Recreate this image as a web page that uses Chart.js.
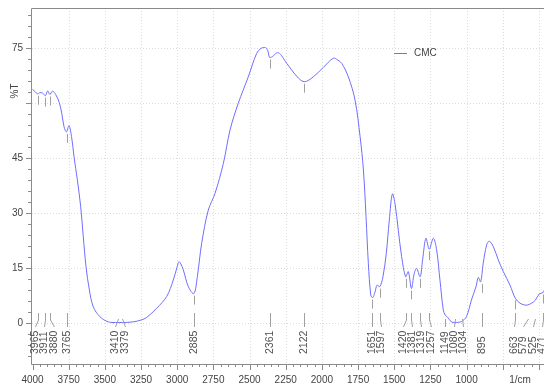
<!DOCTYPE html>
<html>
<head>
<meta charset="utf-8">
<script src="https://cdn.jsdelivr.net/npm/chart.js@4"></script>
<style>
  html, body { margin: 0; padding: 0; background: #fff; }
  #wrap { width: 544px; height: 387px; }
</style>
</head>
<body>
<div id="wrap"><canvas id="irChart" width="544" height="387"></canvas></div>
<script>
// wavenumber (1/cm) and transmittance (%T)
const wavenumbers = [
  4000, 3985, 3965, 3950, 3930, 3911, 3895, 3880, 3862, 3840, 3815, 3798, 3782, 3765, 3748,
  3730, 3713, 3690, 3667, 3649, 3630, 3607, 3580, 3534, 3476, 3410, 3379, 3303, 3250, 3211,
  3142, 3073, 3027, 3000, 2988, 2975, 2958, 2923, 2885, 2861, 2831, 2785, 2739, 2681, 2635,
  2578, 2509, 2451, 2420, 2390, 2375, 2361, 2345, 2301, 2243, 2174, 2122, 2060, 1990, 1921,
  1890, 1863, 1817, 1771, 1736, 1713, 1695, 1679, 1662, 1649, 1633, 1619, 1600, 1578, 1555,
  1534, 1513, 1495, 1472, 1449, 1421, 1403, 1381, 1364, 1346, 1321, 1304, 1281, 1258, 1230,
  1207, 1184, 1161, 1149, 1130, 1105, 1080, 1055, 1034, 1001, 966, 935, 919, 903, 885,
  861, 843, 815, 781, 746, 700, 663, 631, 600, 579, 550, 525, 498, 471, 465
];
const transmittance = [
  63.8, 63.3, 62.6, 62.9, 62.8, 62.1, 63.4, 62.4, 63.3, 62.4, 60.2, 57.3, 53.6, 52.2, 53.9,
  50.9, 45.4, 39.1, 31.8, 23.6, 15.4, 9.1, 4.5, 1.8, 0.4, 0.2, 0.2, 0.4, 0.9, 1.6,
  4.1, 7.3, 11.8, 15.5, 16.8, 16.2, 14.6, 10.0, 8.1, 12.7, 21.8, 30.9, 35.4, 43.6, 52.7,
  60.0, 67.2, 73.6, 75.0, 75.2, 74.5, 72.5, 72.7, 73.8, 70.9, 67.4, 65.9, 67.2, 69.8, 72.3,
  71.8, 70.9, 67.2, 60.9, 50.9, 41.8, 29.1, 16.4, 7.7, 7.0, 8.5, 10.4, 10.0, 12.7, 19.1,
  28.2, 35.3, 32.7, 25.4, 18.2, 12.7, 14.1, 9.5, 13.2, 15.0, 12.7, 17.3, 23.2, 20.2, 23.2,
  20.0, 11.8, 3.6, 2.3, 1.6, 0.4, 0.2, 0.3, 0.5, 1.8, 6.4, 10.0, 12.5, 11.3, 16.4,
  21.4, 22.4, 20.9, 17.3, 14.1, 10.4, 6.8, 5.5, 5.0, 5.0, 5.5, 6.3, 8.0, 8.4, 9.0
];

// labelled peaks and the %T at each one
const peakWaves = [3965, 3911, 3880, 3765, 3410, 3379, 2885, 2361, 2122, 1651, 1597, 1420,
  1381, 1319, 1257, 1149, 1080, 1034, 895, 663, 579, 525, 471];
const peakT = [62.6, 62.1, 62.4, 52.2, 0.2, 0.2, 8.1, 72.5, 65.9, 7.0, 10.0, 12.7,
  9.5, 12.7, 20.2, 2.3, 0.2, 0.5, 11.3, 6.8, 5.0, 6.3, 8.4];

const xTickLabels = [4000, 3750, 3500, 3250, 3000, 2750, 2500, 2250, 2000, 1750, 1500, 1250, 1000];
const yTickLabels = [0, 15, 30, 45, 75];
const seriesName = "CMC";

const FONT = "'Liberation Sans', Arial, sans-serif";
const TXT = "#444";
const AXIS = "#8a8a8a";

// draws axes, grid, peak labels and legend in the spectrometer style
const irDecor = {
  id: "irDecor",
  beforeDatasetsDraw(chart) {
    const { ctx, chartArea: a, scales: { x, y } } = chart;
    ctx.save();
    ctx.strokeStyle = "#dcdcdc";
    ctx.lineWidth = 1;
    ctx.setLineDash([1, 2]);
    for (let v = 3750; v > x.min; v -= 250) {
      const px = Math.round(x.getPixelForValue(v)) + 0.5;
      ctx.beginPath(); ctx.moveTo(px, a.top); ctx.lineTo(px, a.bottom); ctx.stroke();
    }
    for (let v = 0; v <= 75; v += 15) {
      const py = Math.round(y.getPixelForValue(v)) + 0.5;
      ctx.beginPath(); ctx.moveTo(a.left, py); ctx.lineTo(a.right, py); ctx.stroke();
    }
    ctx.restore();
  },
  afterDatasetsDraw(chart) {
    const { ctx, chartArea: a, scales: { x, y } } = chart;
    ctx.save();

    // frame
    ctx.strokeStyle = AXIS;
    ctx.lineWidth = 1;
    ctx.beginPath();
    ctx.moveTo(a.right, a.top + 0.5); ctx.lineTo(a.left - 0.5, a.top + 0.5);
    ctx.lineTo(a.left - 0.5, a.bottom + 0.5); ctx.lineTo(a.right, a.bottom + 0.5);
    ctx.stroke();

    // x ticks every 50, long ones every 250
    ctx.beginPath();
    for (let v = 4000; v > x.min; v -= 50) {
      const px = Math.round(x.getPixelForValue(v)) + 0.5;
      const len = v % 250 === 0 ? 6 : 3;
      ctx.moveTo(px, a.bottom); ctx.lineTo(px, a.bottom + len);
    }
    // y ticks every 3
    for (let v = -9; v <= 84; v += 3) {
      const py = Math.round(y.getPixelForValue(v)) + 0.5;
      const len = v % 15 === 0 ? 6 : 4;
      ctx.moveTo(a.left - len, py); ctx.lineTo(a.left, py);
    }
    ctx.stroke();

    ctx.fillStyle = TXT;
    ctx.font = "10px " + FONT;
    ctx.textAlign = "center";
    ctx.textBaseline = "middle";
    xTickLabels.forEach(v => ctx.fillText(String(v), x.getPixelForValue(v), a.bottom + 16));
    ctx.fillText("1/cm", 520, a.bottom + 16);
    ctx.textAlign = "right";
    yTickLabels.forEach(v => ctx.fillText(String(v), a.left - 9, y.getPixelForValue(v)));

    ctx.save();
    ctx.translate(15, 91);
    ctx.rotate(-Math.PI / 2);
    ctx.textAlign = "center";
    ctx.fillText("%T", 0, 0);
    ctx.restore();

    // spread peak labels so they do not overlap
    const px = peakWaves.map(w => x.getPixelForValue(w));
    const order = px.map((p, i) => i).sort((i, j) => px[i] - px[j]);
    const lx = order.map(i => px[i]);
    const gap = 9.3, maxX = 542;
    for (let it = 0; it < 300; it++) {
      for (let k = 0; k < lx.length - 1; k++) {
        const d = lx[k + 1] - lx[k];
        if (d < gap) { const s = (gap - d) / 2; lx[k] -= s; lx[k + 1] += s; }
      }
      if (lx[lx.length - 1] > maxX) lx[lx.length - 1] = maxX;
    }
    const labelX = [];
    order.forEach((i, k) => { labelX[i] = lx[k]; });

    ctx.strokeStyle = "#a0a0a0";
    ctx.fillStyle = "#505050";
    ctx.font = "10.5px " + FONT;
    ctx.textAlign = "left";
    ctx.textBaseline = "middle";
    peakWaves.forEach((w, i) => {
      const p = Math.round(px[i]) + 0.5;
      const cy = y.getPixelForValue(peakT[i]);
      const q = Math.round(labelX[i]) + 0.5;
      ctx.beginPath();
      if (cy + 11 < 311) {
        ctx.moveTo(p, cy + 2); ctx.lineTo(p, cy + 11);
        ctx.moveTo(p, 313); ctx.lineTo(p, 320); ctx.lineTo(q, 327);
      } else {
        ctx.moveTo(p, 319); ctx.lineTo(q, 327);
      }
      ctx.stroke();
      ctx.save();
      ctx.translate(q, 354);
      ctx.rotate(-Math.PI / 2);
      ctx.fillText(String(w), 0, 0);
      ctx.restore();
    });

    // legend
    ctx.strokeStyle = chart.data.datasets[0].borderColor;
    ctx.beginPath(); ctx.moveTo(394, 53.5); ctx.lineTo(407, 53.5); ctx.stroke();
    ctx.fillStyle = TXT;
    ctx.font = "10px " + FONT;
    ctx.fillText(seriesName, 414, 53);

    ctx.restore();
  }
};

const ctx = document.getElementById("irChart").getContext("2d");
const irChart = new Chart(ctx, {
  type: "line",
  data: {
    datasets: [{
      label: seriesName,
      data: wavenumbers.map((w, i) => ({ x: w, y: transmittance[i] })),
      borderColor: "#6e6eff",
      borderWidth: 1,
      pointRadius: 0,
      tension: 0.35,
      fill: false
    }]
  },
  options: {
    responsive: false,
    animation: false,
    layout: { padding: { left: 32, top: 8, right: 0, bottom: 23 } },
    plugins: { legend: { display: false }, tooltip: { enabled: false } },
    scales: {
      x: { type: "linear", reverse: true, min: 465, max: 4003.5, display: false },
      y: { type: "linear", min: -11.1, max: 86, display: false }
    }
  },
  plugins: [irDecor]
});
</script>
</body>
</html>
